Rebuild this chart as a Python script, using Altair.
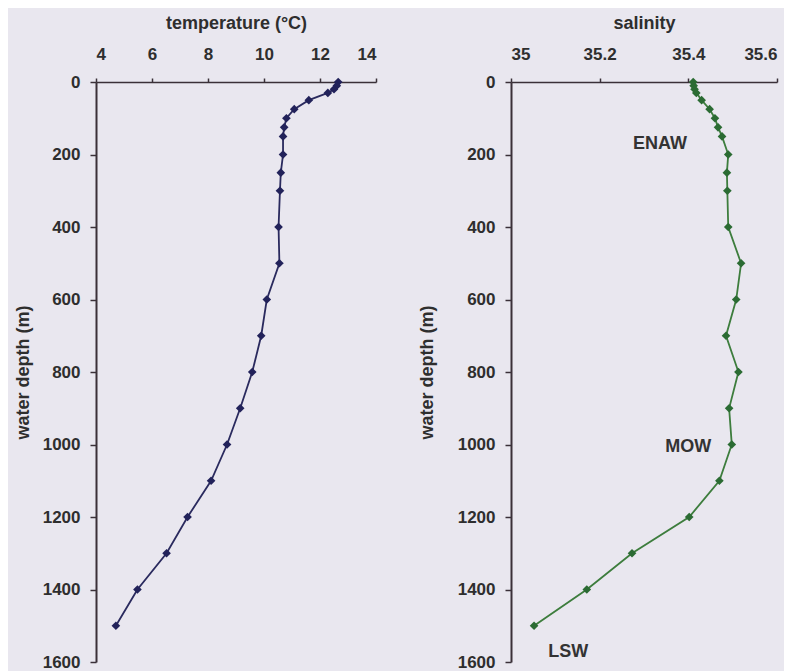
import altair as alt
import pandas as pd

depth = [0, 10, 20, 30, 50, 75, 100, 125, 150, 200, 250, 300, 400, 500,
         600, 700, 800, 900, 1000, 1100, 1200, 1300, 1400, 1500]
temperature = [12.65, 12.6, 12.5, 12.28, 11.6, 11.08, 10.8, 10.72, 10.68, 10.68,
               10.6, 10.57, 10.52, 10.55, 10.1, 9.9, 9.58, 9.15, 8.68, 8.11,
               7.27, 6.52, 5.48, 4.71]
salinity = [35.411, 35.412, 35.414, 35.418, 35.43, 35.448, 35.46, 35.467, 35.476,
            35.49, 35.487, 35.488, 35.49, 35.519, 35.508, 35.485, 35.513, 35.492,
            35.498, 35.47, 35.402, 35.273, 35.171, 35.052]
water_masses = ["ENAW", "MOW", "LSW"]
mass_salinity = [35.336, 35.40, 35.129]
mass_depth = [171, 1007, 1572]

temp_ticks = [4, 6, 8, 10, 12, 14]
sal_ticks = [35, 35.2, 35.4, 35.6]
depth_ticks = [0, 200, 400, 600, 800, 1000, 1200, 1400, 1600]

df = pd.DataFrame({"depth": depth, "temperature": temperature, "salinity": salinity})
lab = pd.DataFrame({"name": water_masses, "salinity": mass_salinity, "depth": mass_depth})

FONT = "Liberation Sans"
AXIS_COL = "#3a3038"
TEXT_COL = "#2e2e2e"
BG = "#e9e7ef"

def y_axis(pad):
    return alt.Axis(title="water depth (m)", values=depth_ticks, format="d", grid=False,
                    tickSize=6, labelPadding=10, titlePadding=pad,
                    labelFontSize=17, titleFontSize=18, labelFont=FONT, titleFont=FONT,
                    labelFontWeight="bold", titleFontWeight="bold",
                    labelColor=TEXT_COL, titleColor=TEXT_COL,
                    domainColor=AXIS_COL, tickColor=AXIS_COL, domainWidth=2, tickWidth=1.5)

def x_axis(title, values, fmt):
    return alt.Axis(title=title, orient="top", values=values, format=fmt, grid=False,
                    tickSize=4, labelPadding=15, titlePadding=13,
                    labelFontSize=17, titleFontSize=18, labelFont=FONT, titleFont=FONT,
                    labelFontWeight="bold", titleFontWeight="bold",
                    labelColor=TEXT_COL, titleColor=TEXT_COL,
                    domainColor=AXIS_COL, tickColor=AXIS_COL, domainWidth=1.5, tickWidth=1.5)

yscale = alt.Scale(domain=[0, 1600], reverse=True, nice=False, zero=False)

left = alt.Chart(df).mark_line(
    color="#2a2a5e", strokeWidth=1.8,
    point=alt.OverlayMarkDef(shape="diamond", size=75, filled=True, color="#22225a")
).encode(
    x=alt.X("temperature:Q", scale=alt.Scale(domain=[4, 14], nice=False, zero=False),
            axis=x_axis("temperature (°C)", temp_ticks, "d")),
    y=alt.Y("depth:Q", scale=yscale, axis=y_axis(10)),
    order=alt.Order("depth:Q"),
).properties(width=280, height=580)

sal_line = alt.Chart(df).mark_line(
    color="#3d7d3d", strokeWidth=1.8,
    point=alt.OverlayMarkDef(shape="diamond", size=75, filled=True, color="#2b6b33")
).encode(
    x=alt.X("salinity:Q", scale=alt.Scale(domain=[35, 35.6], nice=False, zero=False),
            axis=x_axis("salinity", sal_ticks, "~g")),
    y=alt.Y("depth:Q", scale=yscale, axis=y_axis(21)),
    order=alt.Order("depth:Q"),
)

sal_text = alt.Chart(lab).mark_text(
    font=FONT, fontSize=18, fontWeight="bold", color="#333333", align="center", baseline="middle"
).encode(
    x="salinity:Q",
    y="depth:Q",
    text="name:N",
)

right = alt.layer(sal_line, sal_text).properties(width=266, height=580)

chart = alt.hconcat(left, right, spacing=39).configure(
    background=BG
).configure_view(stroke="transparent")

chart.save("out.html", embed_options={"renderer": "svg", "actions": False})
